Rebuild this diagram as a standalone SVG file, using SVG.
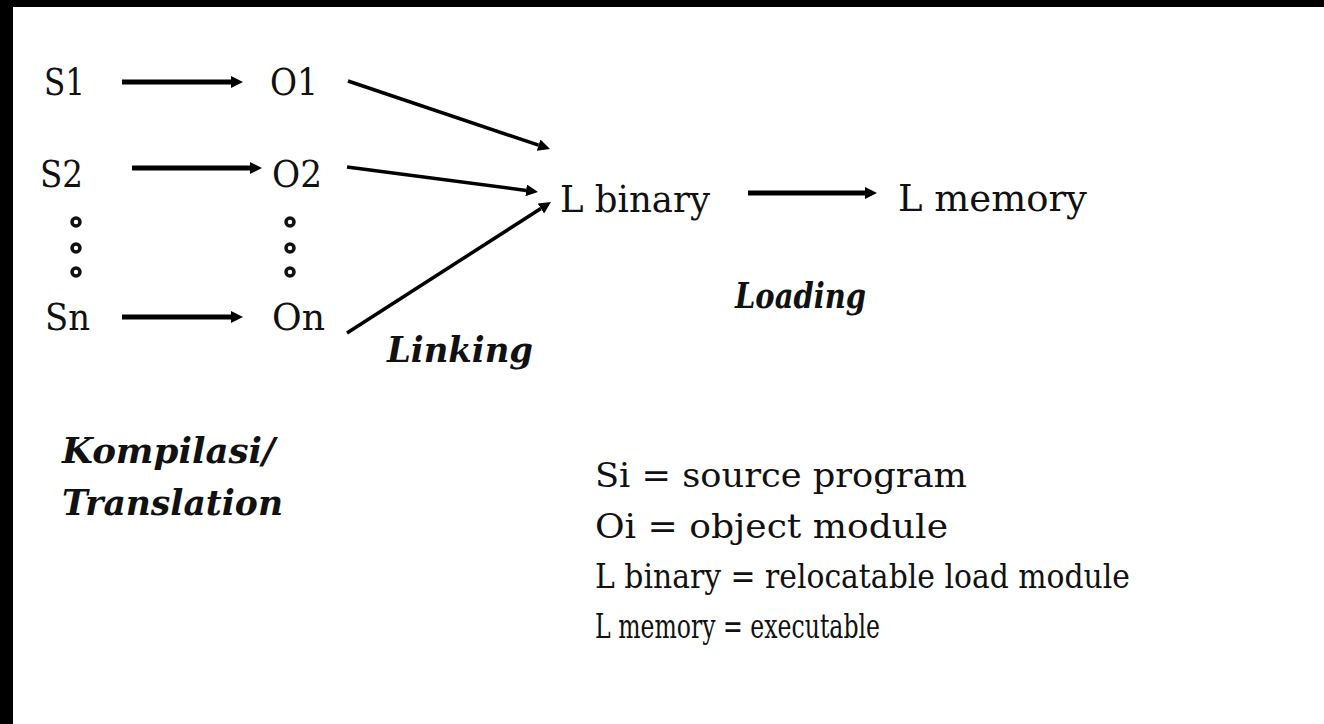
<svg xmlns="http://www.w3.org/2000/svg" width="1324" height="724" viewBox="0 0 1324 724">
  <style>
    .lbl { font-family: "DejaVu Serif", "Liberation Serif", serif; font-size: 37px; fill: #111; }
    .phase { font-family: "DejaVu Serif", "Liberation Serif", serif; font-size: 36px; font-style: italic; font-weight: bold; fill: #111; }
    .key { font-family: "DejaVu Serif", "Liberation Serif", serif; font-size: 34px; fill: #111; }
    .thick { stroke: #000; stroke-width: 5; fill: none; marker-end: url(#head); }
    .thin { stroke: #000; stroke-width: 3.5; fill: none; marker-end: url(#head); }
    .dot { fill: none; stroke: #111; stroke-width: 3.5; }
  </style>
  <defs>
    <marker id="head" viewBox="0 -6 12 12" markerWidth="12" markerHeight="12" refX="0" refY="0" orient="auto" markerUnits="userSpaceOnUse">
      <path d="M0,-6 L12,0 L0,6 z" fill="#000"/>
    </marker>
  </defs>

  <!-- page background with dark frame edges -->
  <rect x="0" y="0" width="1324" height="724" fill="#fff"/>
  <rect x="0" y="0" width="1324" height="7" fill="#000"/>
  <rect x="0" y="0" width="13" height="724" fill="#000"/>

  <!-- source programs -->
  <g id="s1"><text class="lbl" x="44" y="95" textLength="41" lengthAdjust="spacingAndGlyphs">S1</text></g>
  <g id="s2"><text class="lbl" x="40" y="187" textLength="43" lengthAdjust="spacingAndGlyphs">S2</text></g>
  <g id="sn"><text class="lbl" x="45" y="330" textLength="45" lengthAdjust="spacingAndGlyphs">Sn</text></g>
  <g id="s-dots">
    <circle class="dot" cx="76" cy="222" r="4"/>
    <circle class="dot" cx="76" cy="248" r="4"/>
    <circle class="dot" cx="76" cy="272" r="4"/>
  </g>

  <!-- object modules -->
  <g id="o1"><text class="lbl" x="270" y="95" textLength="48" lengthAdjust="spacingAndGlyphs">O1</text></g>
  <g id="o2"><text class="lbl" x="272" y="187" textLength="50" lengthAdjust="spacingAndGlyphs">O2</text></g>
  <g id="on"><text class="lbl" x="272" y="330" textLength="53" lengthAdjust="spacingAndGlyphs">On</text></g>
  <g id="o-dots">
    <circle class="dot" cx="290" cy="222" r="4"/>
    <circle class="dot" cx="290" cy="248" r="4"/>
    <circle class="dot" cx="290" cy="272" r="4"/>
  </g>

  <!-- load modules -->
  <g id="lbinary"><text class="lbl" x="560" y="212" textLength="150" lengthAdjust="spacingAndGlyphs">L binary</text></g>
  <g id="lmemory"><text class="lbl" x="898" y="211" textLength="189" lengthAdjust="spacingAndGlyphs">L memory</text></g>

  <!-- connectors -->
  <g id="connectors">
    <line class="thick" x1="122" y1="82" x2="231" y2="82"/>
    <line class="thick" x1="132" y1="168" x2="250" y2="168"/>
    <line class="thick" x1="122" y1="317" x2="231" y2="317"/>
    <line class="thin" x1="348" y1="81" x2="538.6" y2="145.2"/>
    <line class="thin" x1="347" y1="167" x2="526.1" y2="190.4"/>
    <line class="thin" x1="347" y1="333" x2="540.9" y2="208.5"/>
    <line class="thick" x1="748" y1="193" x2="865" y2="193"/>
  </g>

  <!-- phase labels -->
  <g id="phases">
    <text class="phase" x="387" y="362" textLength="146" lengthAdjust="spacingAndGlyphs">Linking</text>
    <text class="phase" x="735" y="308" textLength="131" lengthAdjust="spacingAndGlyphs">Loading</text>
    <text class="phase" x="62" y="463" textLength="213" lengthAdjust="spacingAndGlyphs">Kompilasi/</text>
    <text class="phase" x="62" y="515" textLength="221" lengthAdjust="spacingAndGlyphs">Translation</text>
  </g>

  <!-- key -->
  <g id="legend">
    <text class="key" x="595" y="487" textLength="372" lengthAdjust="spacingAndGlyphs">Si = source program</text>
    <text class="key" x="595" y="538" textLength="353" lengthAdjust="spacingAndGlyphs">Oi = object module</text>
    <text class="key" x="595" y="588" textLength="535" lengthAdjust="spacingAndGlyphs">L binary = relocatable load module</text>
    <text class="key" x="595" y="638" textLength="285" lengthAdjust="spacingAndGlyphs">L memory =  executable</text>
  </g>
</svg>
